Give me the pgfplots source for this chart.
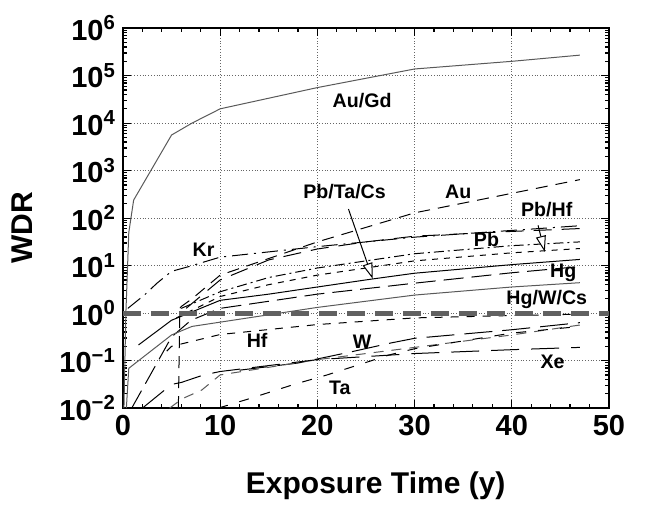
\documentclass[border=0pt]{standalone}
\usepackage{pgfplots}
\pgfplotsset{compat=1.18}
\usepackage{fontspec}
\setmainfont{Liberation Sans}
\usetikzlibrary{arrows.meta}
\definecolor{lg}{gray}{0.35}
\begin{document}
\begin{tikzpicture}
\begin{axis}[
  scale only axis, width=243pt, height=190pt,
  xmin=0, xmax=50, ymin=0.01, ymax=1e6, ymode=log,
  xtick={0,10,20,30,40,50}, minor x tick num=4,
  ytick={1e-2,1e-1,1,1e1,1e2,1e3,1e4,1e5,1e6},
  yticklabels={10\textsuperscript{−2},10\textsuperscript{−1},10\textsuperscript{0},10\textsuperscript{1},10\textsuperscript{2},10\textsuperscript{3},10\textsuperscript{4},10\textsuperscript{5},10\textsuperscript{6}},
  xticklabels={0,10,20,30,40,50},
  tick align=inside, tick pos=both,
  major tick length=4pt, minor tick length=2pt,
  every tick/.style={black, line width=0.6pt},
  axis line style={line width=1.1pt},
  grid=major, major grid style={densely dotted, black!60, line width=0.4pt},
  tick label style={font=\fontsize{14.5}{16}\selectfont\bfseries},
  /pgf/number format/assume math mode=true,
  xlabel={Exposure Time (y)}, ylabel={WDR},
  label style={font=\fontsize{15}{17}\selectfont\bfseries},
  xlabel style={at={(axis description cs:0.52,-0.205)}, anchor=center},
  ylabel style={at={(axis description cs:-0.208,0.475)}, anchor=center},
  every axis plot/.append style={line width=0.5pt},
]
% Au/Gd
\addplot[lg] coordinates {(0.1,0.01) (0.3,1) (0.6,50) (1.1,240) (5,5620) (7.1,1e4) (10,2e4) (20,5.6e4) (30,1.38e5) (40,2e5) (47,2.7e5)};
% Au
\addplot[black, dash pattern=on 6pt off 4pt] coordinates {(5.7,0.01) (5.85,1.26) (6,1.38) (7.1,2.0) (8.6,3.63) (10,6.31) (20,31.6) (30,129) (47,646)};
% Kr
\addplot[black, dash pattern=on 8pt off 3pt on 1pt off 3pt] coordinates {(0.5,1.26) (2.2,2.4) (3.5,4.27) (5,7.59) (6.6,9.33) (10,15.1) (20,25.1) (30,39.8) (47,69.2)};
% Pb/Hf long dash
\addplot[black, dash pattern=on 9pt off 5pt] coordinates {(6.5,1.26) (10,5.0) (15,13.2) (20,22.4) (25,31.6) (30,41.7) (40,52.5) (47,60.3)};
% Pb/Hf dash dot
\addplot[black, dash pattern=on 5pt off 2pt on 1pt off 2pt] coordinates {(6,1.26) (10,2.82) (15,5.62) (20,8.91) (30,17.8) (40,26.3) (47,31.6)};
% Pb short dash
\addplot[black, dash pattern=on 3pt off 3pt] coordinates {(5.5,0.794) (10,2.24) (15,3.98) (20,6.31) (30,12.6) (40,18.6) (47,22.9)};
% Hg solid
\addplot[black] coordinates {(1.6,0.214) (5,0.708) (10,1.86) (15,2.51) (20,3.55) (25.7,5.25) (30,6.92) (40,10.5) (47,13.5)};
% Hg long dash
\addplot[black, dash pattern=on 10pt off 4pt] coordinates {(0.9,0.01) (5,0.316) (7,0.708) (10,1.26) (20,2.51) (30,4.27) (40,7.08) (47,9.55)};
% Hg/W/Cs
\addplot[lg] coordinates {(0.35,0.01) (0.6,0.069) (5,0.347) (7.1,0.525) (10,0.646) (20,1.32) (30,2.4) (40,3.55) (47,4.37)};
% Hf
\addplot[black, dash pattern=on 4pt off 4pt] coordinates {(4.5,0.158) (5,0.2) (10,0.355) (20,0.575) (30,0.794) (40,0.89) (47,0.95)};
% W1
\addplot[black, dash pattern=on 14pt off 5pt] coordinates {(12,0.063) (18,0.089) (23.6,0.155) (27.5,0.234) (30,0.295) (40,0.447) (47,0.63)};
% W2
\addplot[lg, dash pattern=on 5pt off 4pt] coordinates {(4.8,0.01) (6.1,0.0158) (8.1,0.024) (10,0.05) (20,0.105) (25,0.141) (30,0.19) (40,0.347) (47,0.562)};
% Xe
\addplot[black, dash pattern=on 14pt off 6pt] coordinates {(2,0.01) (5,0.0316) (6,0.0347) (8.3,0.05) (10,0.059) (20,0.105) (30,0.141) (40,0.17) (47,0.19)};
% Ta
\addplot[black, dash pattern=on 5pt off 6pt] coordinates {(9.8,0.01) (13,0.0158) (17.6,0.0316) (21,0.05) (24.2,0.081) (27.4,0.132) (30,0.178) (40,0.38) (47,0.525)};
% threshold
\addplot[black!62, line width=2.5pt, dash pattern=on 9pt off 5pt] coordinates {(0,1) (50,1)};
% arrows
\draw[line width=0.5pt, -{Triangle[open, fill=white, length=8pt, width=5pt]}] (axis cs:23.2,155) -- (axis cs:25.7,5.25);
\draw[line width=0.5pt, -{Triangle[open, fill=white, length=8pt, width=5pt]}] (axis cs:42.7,70.8) -- (axis cs:43.4,19.5);
% labels
\begin{scope}[every node/.style={font=\fontsize{9.8}{11}\selectfont\bfseries, inner sep=0pt}]
\node at (axis cs:24.6,3.0e4) {Au/Gd};
\node at (axis cs:34.5,355) {Au};
\node at (axis cs:22.8,355) {Pb/Ta/Cs};
\node at (axis cs:43.6,148) {Pb/Hf};
\node at (axis cs:37.4,34.7) {Pb};
\node at (axis cs:8.3,21.4) {Kr};
\node at (axis cs:45.3,6.92) {Hg};
\node at (axis cs:43.6,1.9) {Hg/W/Cs};
\node at (axis cs:13.8,0.263) {Hf};
\node at (axis cs:24.6,0.251) {W};
\node at (axis cs:22.3,0.0269) {Ta};
\node at (axis cs:44.2,0.095) {Xe};
\end{scope}
\coordinate (bbl) at (rel axis cs:-0.253,-0.253);
\coordinate (btr) at (rel axis cs:1.105,1.074);
\end{axis}
\path (bbl) rectangle (btr);
\end{tikzpicture}
\end{document}
